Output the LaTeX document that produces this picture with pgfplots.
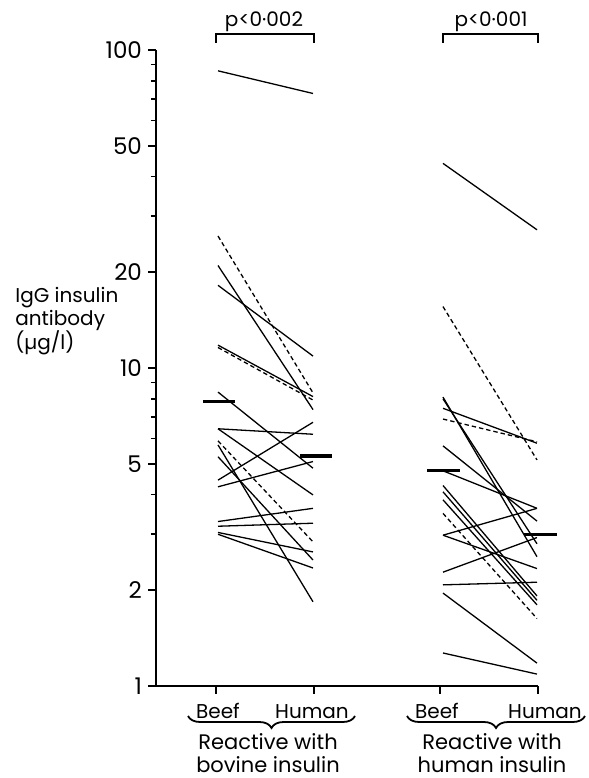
\documentclass[border=0pt]{standalone}
\usepackage{fontspec}
\setmainfont{Poppins}
\usepackage{pgfplots}
\pgfplotsset{compat=1.18}
\usetikzlibrary{decorations.pathreplacing}

\begin{document}
\begin{tikzpicture}
\useasboundingbox (0pt,0pt) rectangle (294.5pt,389pt);
\begin{axis}[
  at={(78pt,46pt)}, anchor=south west,
  scale only axis, width=191pt, height=318pt,
  xmin=156, xmax=538,
  ymode=log, ymin=1, ymax=100,
  axis x line*=bottom, axis y line*=left,
  axis line style={black, line width=1pt},
  tick align=outside,
  tick style={black, line width=0.9pt},
  major tick length=4pt, minor tick length=2.6pt,
  xtick={216,314,440,538}, xticklabels={},
  ytick={1,2,5,10,20,50,100},
  yticklabels={1,2,5,10,20,50,100},
  minor ytick={3,4,6,7,8,9,30,40,60,70,80,90},
  yticklabel style={xshift=0.5pt, font=\fontsize{11.5}{13}\selectfont},
  clip=false,
  dat/.style={black, line width=0.65pt, mark=none},
  dsh/.style={dat, dash pattern=on 2.2pt off 1.5pt},
  med/.style={black, line width=1.6pt, mark=none}]

% reactive with bovine insulin
\addplot[dat] coordinates {(218,86) (313,73)};
\addplot[dat] coordinates {(218,21) (313,7.4)};
\addplot[dat] coordinates {(218,18.2) (313,10.9)};
\addplot[dat] coordinates {(218,11.8) (313,8.13)};
\addplot[dat] coordinates {(218,8.4) (313,4.84)};
\addplot[dat] coordinates {(218,6.44) (313,6.19)};
\addplot[dat] coordinates {(218,6.44) (313,3.99)};
\addplot[dat] coordinates {(218,5.73) (313,1.84)};
\addplot[dat] coordinates {(218,5.26) (313,2.49)};
\addplot[dat] coordinates {(218,4.44) (313,6.75)};
\addplot[dat] coordinates {(218,4.23) (313,5.08)};
\addplot[dat] coordinates {(218,3.29) (313,3.62)};
\addplot[dat] coordinates {(218,3.18) (313,3.25)};
\addplot[dat] coordinates {(218,3.04) (313,2.64)};
\addplot[dat] coordinates {(218,3.0) (313,2.35)};
\addplot[dsh] coordinates {(218,26) (313,8.35)};
\addplot[dsh] coordinates {(218,11.6) (313,7.93)};
\addplot[dsh] coordinates {(218,5.9) (313,2.84)};
\addplot[med] coordinates {(203,7.84) (235,7.84)};
\addplot[med] coordinates {(300,5.29) (332,5.29)};

% reactive with human insulin
\addplot[dat] coordinates {(443,44) (537,27.2)};
\addplot[dat] coordinates {(443,8.1) (537,2.55)};
\addplot[dat] coordinates {(443,8.0) (537,2.8)};
\addplot[dat] coordinates {(443,7.47) (537,5.8)};
\addplot[dat] coordinates {(443,5.69) (537,3.3)};
\addplot[dat] coordinates {(443,4.75) (537,3.62)};
\addplot[dat] coordinates {(443,4.27) (537,1.92)};
\addplot[dat] coordinates {(443,4.08) (537,1.86)};
\addplot[dat] coordinates {(443,3.85) (537,1.80)};
\addplot[dat] coordinates {(443,2.98) (537,3.62)};
\addplot[dat] coordinates {(443,2.98) (537,2.34)};
\addplot[dat] coordinates {(443,2.28) (537,2.93)};
\addplot[dat] coordinates {(443,2.08) (537,2.12)};
\addplot[dat] coordinates {(443,1.96) (537,1.18)};
\addplot[dat] coordinates {(443,1.27) (537,1.09)};
\addplot[dsh] coordinates {(443,15.6) (537,5.14)};
\addplot[dsh] coordinates {(443,6.91) (537,5.86)};
\addplot[dsh] coordinates {(443,3.49) (537,1.63)};
\addplot[med] coordinates {(427,4.75) (460,4.75)};
\addplot[med] coordinates {(524,3.0) (557,3.0)};
\end{axis}

\begin{scope}[x=0.5pt,y=0.5pt]
% y label
\node[anchor=base west, inner sep=0pt] at (15,475) {IgG insulin};
\node[anchor=base west, inner sep=0pt] at (15,452) {antibody};
\node[anchor=base west, inner sep=0pt] at (15,428) {(µg/l)};

% significance brackets
\draw[line width=1pt] (216,735) -- (216,744) -- (314,744) -- (314,735);
\draw[line width=1pt] (443,735) -- (443,744) -- (538,744) -- (538,735);
\node[anchor=base, inner sep=0pt] at (264,751) {p<0·002};
\node[anchor=base, inner sep=0pt] at (491,751) {p<0·001};

% group labels
\node[anchor=base, inner sep=0pt] at (218,60) {Beef};
\node[anchor=base, inner sep=0pt] at (312,60) {Human};
\node[anchor=base, inner sep=0pt] at (437,60) {Beef};
\node[anchor=base, inner sep=0pt] at (545,60) {Human};
\draw[line width=0.9pt, decorate, decoration={brace, mirror, amplitude=6pt}]
  (188,62) -- (355,62);
\draw[line width=0.9pt, decorate, decoration={brace, mirror, amplitude=6pt}]
  (407,62) -- (585,62);
\node[anchor=base, inner sep=0pt, font=\fontsize{10.5}{12}\selectfont] at (268,28) {Reactive with};
\node[anchor=base, inner sep=0pt, font=\fontsize{10.5}{12}\selectfont] at (268,5) {bovine insulin};
\node[anchor=base, inner sep=0pt, font=\fontsize{10.5}{12}\selectfont] at (492,28) {Reactive with};
\node[anchor=base, inner sep=0pt, font=\fontsize{10.5}{12}\selectfont] at (492,5) {human insulin};
\end{scope}
\end{tikzpicture}
\end{document}
